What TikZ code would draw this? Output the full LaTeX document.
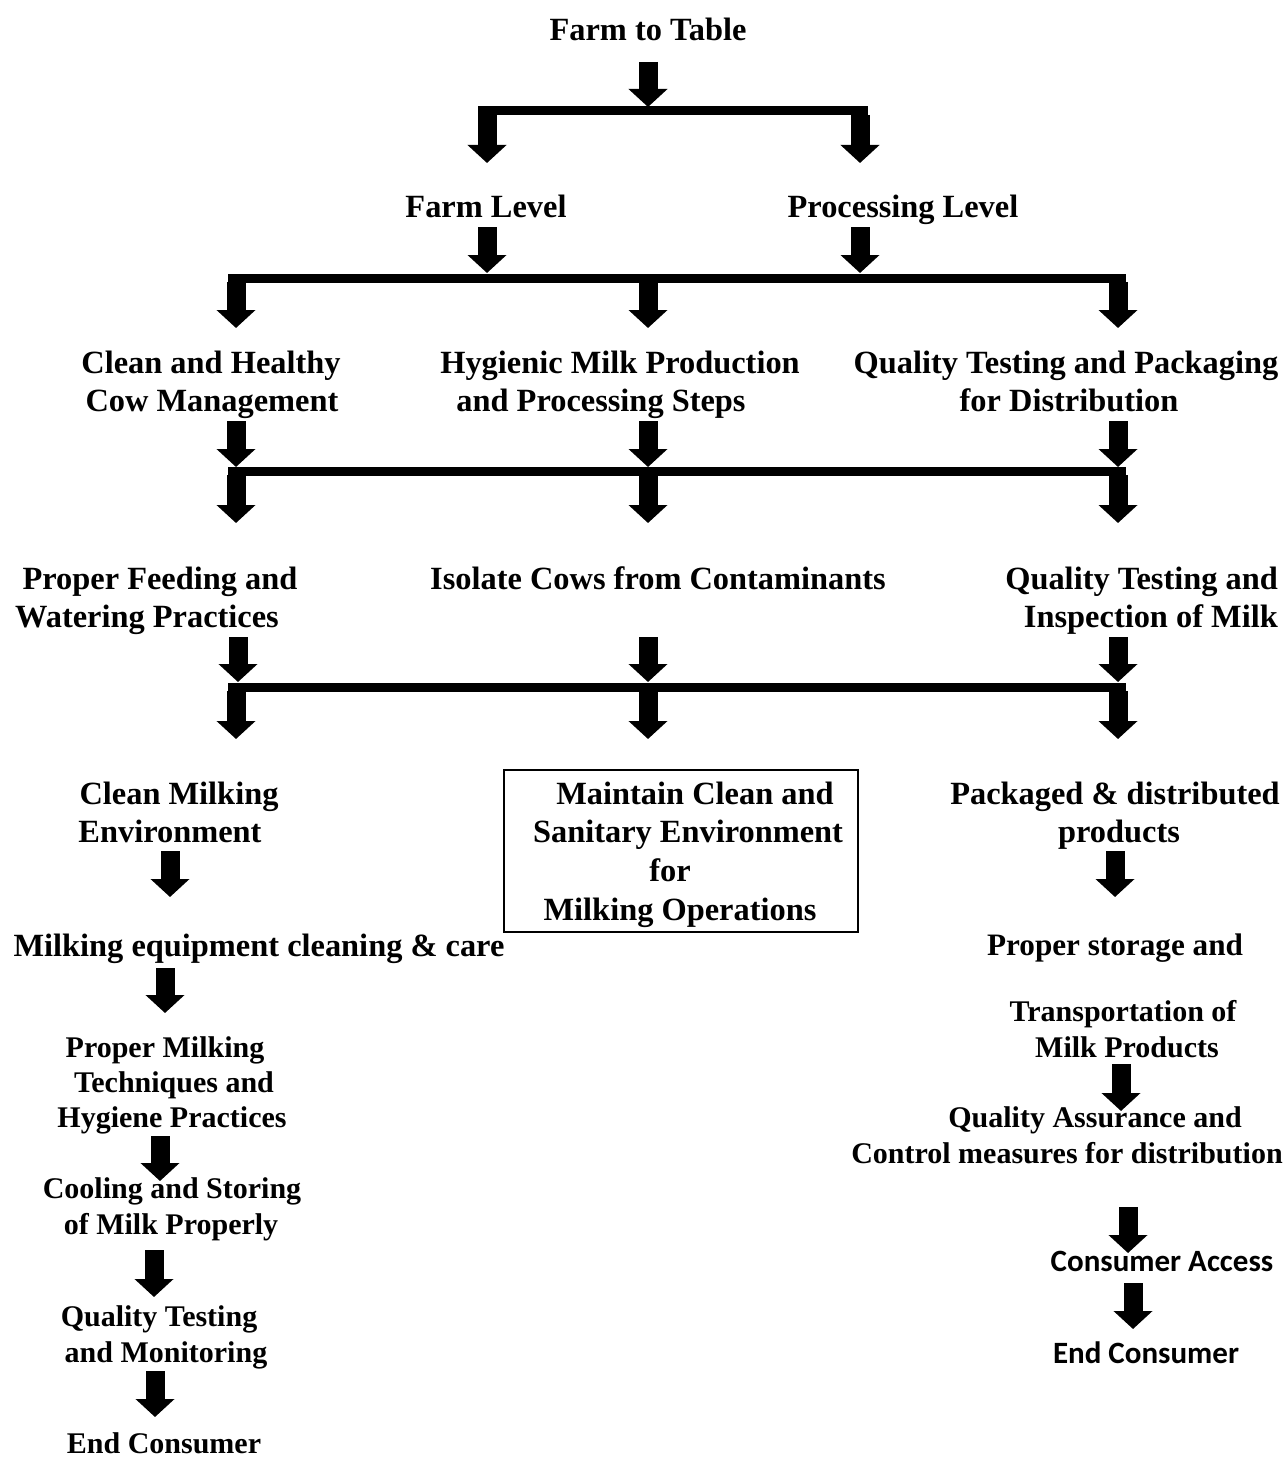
\documentclass[tikz,border=0pt]{standalone}
\usepackage{fontspec}
\setmainfont{Liberation Serif}
\newfontfamily\calib{Carlito}
\usetikzlibrary{arrows.meta}
\begin{document}
\begin{tikzpicture}[x=1pt,y=-1pt,
  ln/.style={font=\bfseries\fontsize{32.4}{38}\selectfont, inner sep=0pt, anchor=base},
  lns/.style={font=\bfseries\fontsize{30}{36}\selectfont, inner sep=0pt, anchor=base},
  lnc/.style={font=\calib\bfseries\fontsize{31}{36}\selectfont, inner sep=0pt, anchor=base},
  blk/.style={line width=19pt, -{Triangle[width=38pt,length=18pt]}},
  barline/.style={line width=9pt},
  boxst/.style={draw, line width=1.8pt, minimum width=354pt, minimum height=162pt, inner sep=0pt}]
\useasboundingbox (0,0) rectangle (1287,1458);
% ---------- texts ----------
\node[ln] (t0) at (648,41) {Farm to Table};
\node[ln] (farm) at (486,218) {Farm Level};
\node[ln] (proc) at (903,218) {Processing Level};
\node[ln] (cow1) at (211,373) {Clean and Healthy};
\node[ln] (cow2) at (212,411) {Cow Management};
\node[ln] (hyg1) at (620,373) {Hygienic Milk Production};
\node[ln] (hyg2) at (601,411) {and Processing Steps};
\node[ln] (qtp1) at (1066,373) {Quality Testing and Packaging};
\node[ln] (qtp2) at (1069,411) {for Distribution};
\node[ln] (feed1) at (160,589) {Proper Feeding and};
\node[ln] (feed2) at (147,627) {Watering Practices};
\node[ln] (iso) at (658,589) {Isolate Cows from Contaminants};
\node[ln, anchor=base east] (qti1) at (1278,589) {Quality Testing and};
\node[ln, anchor=base east] (qti2) at (1278,627) {Inspection of Milk};
\node[ln] (cme1) at (179,804) {Clean Milking};
\node[ln] (cme2) at (170,842) {Environment};
\node[boxst] (box) at (681,851) {};
\node[ln] (bx1) at (695,804) {Maintain Clean and};
\node[ln] (bx2) at (688,842) {Sanitary Environment};
\node[ln] (bx3) at (670,881) {for};
\node[ln] (bx4) at (680,920) {Milking Operations};
\node[ln] (pkg1) at (1115,804) {Packaged \& distributed};
\node[ln] (pkg2) at (1119,842) {products};
\node[ln] (mec) at (259,956) {Milking equipment cleaning \& care};
\node[lns, font=\bfseries\fontsize{31.2}{36}\selectfont] (psa) at (1115,955) {Proper storage and};
\node[lns] (tmp1) at (1123,1021) {Transportation of};
\node[lns] (tmp2) at (1127,1057) {Milk Products};
\node[lns] (pmt1) at (165,1057) {Proper Milking};
\node[lns] (pmt2) at (174,1092) {Techniques and};
\node[lns] (pmt3) at (172,1127) {Hygiene Practices};
\node[lns] (qac1) at (1095,1127) {Quality Assurance and};
\node[lns] (qac2) at (1067,1163) {Control measures for distribution};
\node[lns] (cool1) at (172,1198) {Cooling and Storing};
\node[lns] (cool2) at (171,1234) {of Milk Properly};
\node[lnc] (ca) at (1162,1271) {Consumer Access};
\node[lns] (qtm1) at (159,1326) {Quality Testing};
\node[lns] (qtm2) at (166,1362) {and Monitoring};
\node[lnc] (ecr) at (1146,1363) {End Consumer};
\node[lns] (ecl) at (164,1453) {End Consumer};
% ---------- coordinates ----------
\coordinate (a0s) at (648,62);   \coordinate (a0e) at (648,107);
\coordinate (b1l) at (478,111);  \coordinate (b1r) at (868,111);
\coordinate (a1s) at (487,115);  \coordinate (a1e) at (487,163);
\coordinate (a2s) at (860,115);  \coordinate (a2e) at (860,163);
\coordinate (a3s) at (487,227);  \coordinate (a3e) at (487,273);
\coordinate (a4s) at (860,227);  \coordinate (a4e) at (860,273);
\coordinate (b2l) at (228,278);  \coordinate (b2r) at (1126,278);
\coordinate (a5s) at (236,282);  \coordinate (a5e) at (236,328);
\coordinate (a6s) at (648,282);  \coordinate (a6e) at (648,328);
\coordinate (a7s) at (1118,282); \coordinate (a7e) at (1118,328);
\coordinate (a8s) at (236,421);  \coordinate (a8e) at (236,467);
\coordinate (a9s) at (648,421);  \coordinate (a9e) at (648,467);
\coordinate (a10s) at (1118,421);\coordinate (a10e) at (1118,467);
\coordinate (b3l) at (228,471);  \coordinate (b3r) at (1126,471);
\coordinate (a11s) at (236,475); \coordinate (a11e) at (236,523);
\coordinate (a12s) at (648,475); \coordinate (a12e) at (648,523);
\coordinate (a13s) at (1118,475);\coordinate (a13e) at (1118,523);
\coordinate (a14s) at (238,637); \coordinate (a14e) at (238,682);
\coordinate (a15s) at (648,637); \coordinate (a15e) at (648,682);
\coordinate (a16s) at (1118,637);\coordinate (a16e) at (1118,682);
\coordinate (b4l) at (228,687);  \coordinate (b4r) at (1126,687);
\coordinate (a17s) at (236,691); \coordinate (a17e) at (236,739);
\coordinate (a18s) at (648,691); \coordinate (a18e) at (648,739);
\coordinate (a19s) at (1118,691);\coordinate (a19e) at (1118,739);
\coordinate (a20s) at (170,851); \coordinate (a20e) at (170,897);
\coordinate (a21s) at (165,968); \coordinate (a21e) at (165,1013);
\coordinate (a22s) at (160,1136);\coordinate (a22e) at (160,1181);
\coordinate (a23s) at (154,1250);\coordinate (a23e) at (154,1297);
\coordinate (a24s) at (155,1371);\coordinate (a24e) at (155,1417);
\coordinate (a25s) at (1115,851);\coordinate (a25e) at (1115,897);
\coordinate (a26s) at (1121,1064);\coordinate (a26e) at (1121,1111);
\coordinate (a27s) at (1128,1207);\coordinate (a27e) at (1128,1253);
\coordinate (a28s) at (1133,1283);\coordinate (a28e) at (1133,1329);
% ---------- bars ----------
\draw[barline] (b1l) -- (b1r);
\draw[barline] (b2l) -- (b2r);
\draw[barline] (b3l) -- (b3r);
\draw[barline] (b4l) -- (b4r);
% ---------- arrows ----------
\foreach \i in {0,...,28} {\draw[blk] (a\i s) -- (a\i e);}
\end{tikzpicture}
\end{document}
